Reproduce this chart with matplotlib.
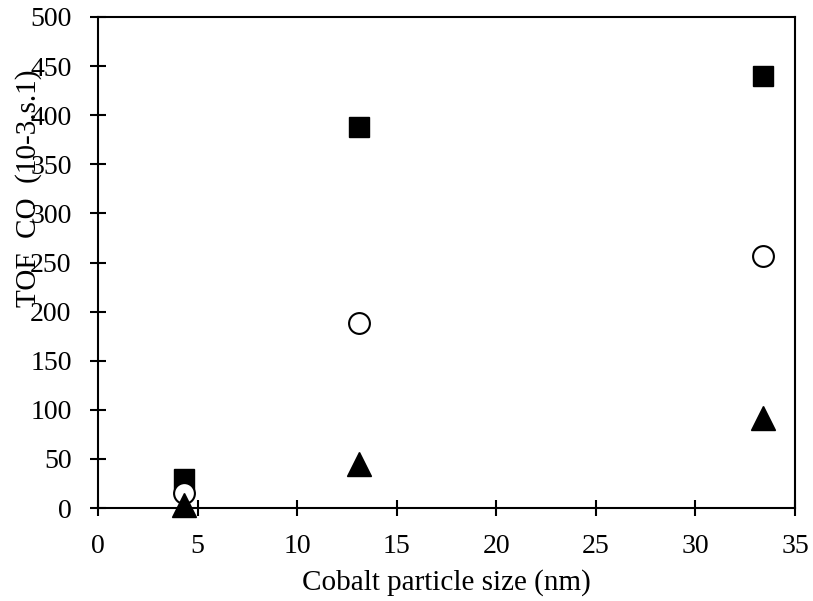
import matplotlib.pyplot as plt

# particle size (nm) and TOF values for the three series
size = [4.3, 13.1, 33.4]
tof_square = [30, 388, 440]
tof_circle = [15, 188, 257]
tof_triangle = [3, 45, 92]

plt.rcParams['font.family'] = ['Liberation Serif', 'DejaVu Serif']

fig = plt.figure(figsize=(8.13, 6.01), dpi=100)
ax = fig.add_axes([98 / 813, 1 - 508 / 601, (795 - 98) / 813, (508 - 17) / 601])

ax.plot(size, tof_square, 's', color='black', markersize=15, linestyle='none', clip_on=False, zorder=3)
ax.plot(size, tof_circle, 'o', markerfacecolor='white', markeredgecolor='black',
        markeredgewidth=1.5, markersize=15, linestyle='none', clip_on=False, zorder=4)
ax.plot(size, tof_triangle, '^', color='black', markersize=17, linestyle='none', clip_on=False, zorder=5)

ax.set_xlim(0, 35)
ax.set_ylim(0, 500)
ax.set_xticks(range(0, 36, 5))
ax.set_yticks(range(0, 501, 50))
ax.tick_params(direction='inout', length=12, width=1.5, labelsize=20, pad=13)
for s in ax.spines.values():
    s.set_linewidth(1.5)

ax.set_xlabel('Cobalt particle size (nm)', fontsize=21, labelpad=7)
fig.text(29 / 813, 1 - 188 / 601, 'TOF  CO  (10-3.s.1)', rotation=90,
         fontsize=21, ha='center', va='center')

fig.savefig('out.png', dpi=100)
